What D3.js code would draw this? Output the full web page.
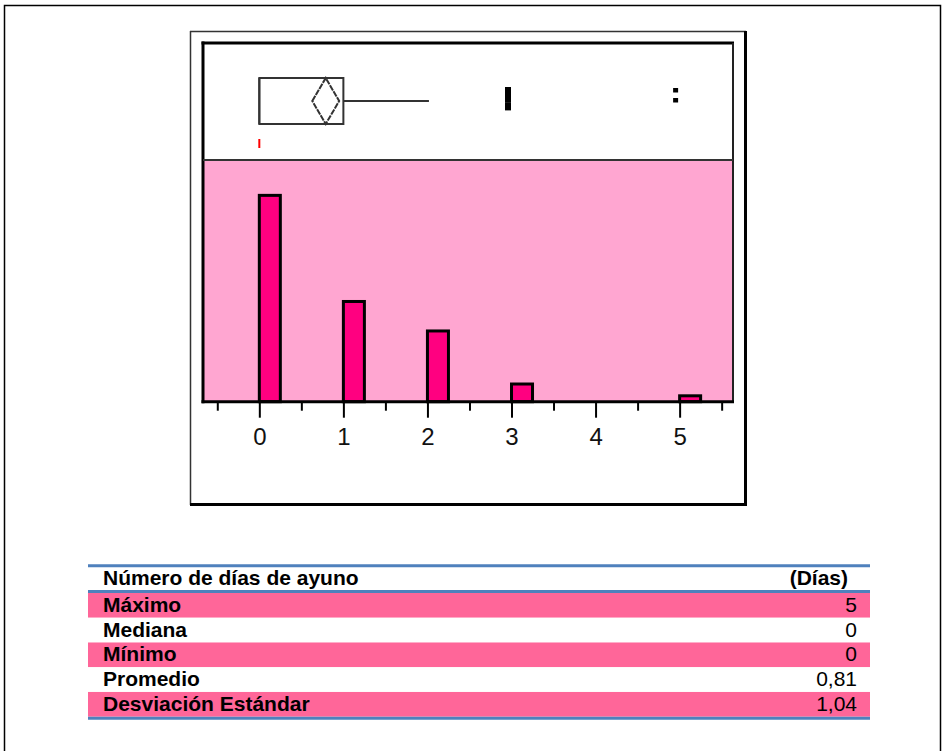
<!DOCTYPE html>
<html>
<head>
<meta charset="utf-8">
<script src="https://cdn.jsdelivr.net/npm/d3@7"></script>
<style>
  body { margin: 0; background: #fff; }
  svg { display: block; }
  text { font-family: "Liberation Sans", Arial, sans-serif; }
</style>
</head>
<body>
<svg id="chart" width="942" height="751"></svg>
<script>
// Frequency of fasting days
const dayValues = [0, 1, 2, 3, 4, 5];
const dayCounts = [35, 17, 12, 3, 0, 1];
const tickValues = [0, 1, 2, 3, 4, 5];
const minorTickValues = [-0.5, 0.5, 1.5, 2.5, 3.5, 4.5, 5.5];

// Outlier box plot summary
const boxQuartiles = [0, 0, 1];      // Q1, median, Q3
const whiskerHigh = 2;
const meanDiamond = [0.63, 0.95];    // confidence diamond of the mean
const modeValue = 0;
const outlierValues = [3, 3, 3];
const farOutlierValues = [5];

// Summary table
const tableTitle = "Número de días de ayuno";
const tableUnit = "(Días)";
const statLabels = ["Máximo", "Mediana", "Mínimo", "Promedio", "Desviación Estándar"];
const statValues = ["5", "0", "0", "0,81", "1,04"];

const svg = d3.select("#chart");

// page frame
svg.append("rect").attr("x", 4.5).attr("y", 5.5).attr("width", 936).attr("height", 760)
  .attr("fill", "none").attr("stroke", "#000").attr("stroke-width", 1.5);

// chart panel with drop-shadow style border
svg.append("line").attr("x1", 190.5).attr("y1", 31).attr("x2", 190.5).attr("y2", 505).attr("stroke", "#333").attr("stroke-width", 1.5);
svg.append("line").attr("x1", 190).attr("y1", 31.5).attr("x2", 746).attr("y2", 31.5).attr("stroke", "#333").attr("stroke-width", 1.5);
svg.append("line").attr("x1", 745.5).attr("y1", 31).attr("x2", 745.5).attr("y2", 506).attr("stroke", "#000").attr("stroke-width", 3);
svg.append("line").attr("x1", 190).attr("y1", 504.5).attr("x2", 747).attr("y2", 504.5).attr("stroke", "#000").attr("stroke-width", 3);

const plotL = 203, plotR = 733, plotT = 43, plotDiv = 160, plotB = 401.7;

const x = d3.scaleLinear().domain([-0.67, 5.635]).range([plotL, plotR]);
const y = d3.scaleLinear().domain([0, 41]).range([plotB, plotDiv]);

// histogram background
svg.append("rect").attr("x", plotL).attr("y", plotDiv).attr("width", plotR - plotL).attr("height", plotB - plotDiv)
  .attr("fill", "#FFA6D1");

// bars
const bars = dayValues.map((v, i) => ({ v, c: dayCounts[i] })).filter(d => d.c > 0);
svg.append("g").selectAll("rect").data(bars).join("rect")
  .attr("x", d => x(d.v))
  .attr("y", d => y(d.c))
  .attr("width", d => x(d.v + 0.25) - x(d.v))
  .attr("height", d => plotB - y(d.c))
  .attr("fill", "#FF0080")
  .attr("stroke", "#000")
  .attr("stroke-width", 3);

// plot frame
svg.append("line").attr("x1", plotL).attr("y1", plotT - 1.5).attr("x2", plotL).attr("y2", plotB + 1.5).attr("stroke", "#000").attr("stroke-width", 3);
svg.append("line").attr("x1", plotL - 1.5).attr("y1", plotT).attr("x2", plotR + 1).attr("y2", plotT).attr("stroke", "#000").attr("stroke-width", 3);
svg.append("line").attr("x1", plotR).attr("y1", plotT).attr("x2", plotR).attr("y2", plotB).attr("stroke", "#222").attr("stroke-width", 2);
svg.append("line").attr("x1", plotL).attr("y1", plotDiv).attr("x2", plotR).attr("y2", plotDiv).attr("stroke", "#333").attr("stroke-width", 2);
svg.append("line").attr("x1", plotL - 1.5).attr("y1", plotB).attr("x2", plotR + 1).attr("y2", plotB).attr("stroke", "#000").attr("stroke-width", 3);

// axes
const axisMajor = svg.append("g").attr("transform", `translate(0,${plotB + 1})`)
  .call(d3.axisBottom(x).tickValues(tickValues).tickSize(15).tickPadding(10).tickFormat(d3.format("d")));
axisMajor.select(".domain").remove();
axisMajor.selectAll(".tick line").attr("stroke", "#000").attr("stroke-width", 2);
axisMajor.selectAll(".tick text").attr("font-size", 24).attr("fill", "#111")
  .attr("font-family", "'Liberation Sans', Arial, sans-serif");

const axisMinor = svg.append("g").attr("transform", `translate(0,${plotB + 1})`)
  .call(d3.axisBottom(x).tickValues(minorTickValues).tickSize(8).tickFormat(""));
axisMinor.select(".domain").remove();
axisMinor.selectAll(".tick line").attr("stroke", "#000").attr("stroke-width", 2);

// box plot
const boxTop = 78, boxBot = 124, boxMid = (boxTop + boxBot) / 2;
const bp = svg.append("g").attr("stroke", "#333").attr("fill", "none").attr("stroke-width", 2);
bp.append("rect").attr("x", x(boxQuartiles[0])).attr("y", boxTop)
  .attr("width", x(boxQuartiles[2]) - x(boxQuartiles[0])).attr("height", boxBot - boxTop);
bp.append("line").attr("x1", x(boxQuartiles[1])).attr("x2", x(boxQuartiles[1])).attr("y1", boxTop).attr("y2", boxBot);
bp.append("line").attr("x1", x(boxQuartiles[2])).attr("x2", x(whiskerHigh) + 1.5).attr("y1", boxMid).attr("y2", boxMid);
const dc = (meanDiamond[0] + meanDiamond[1]) / 2;
bp.append("path")
  .attr("d", `M${x(meanDiamond[0])},${boxMid} L${x(dc)},${boxTop} L${x(meanDiamond[1])},${boxMid} L${x(dc)},${boxBot} Z`)
  .attr("stroke-dasharray", "6,1");

// mode marker
svg.append("line").attr("x1", x(modeValue)).attr("x2", x(modeValue)).attr("y1", 139).attr("y2", 148)
  .attr("stroke", "#FF0000").attr("stroke-width", 2);

// outliers (stacked points, slight jitter to the left)
svg.append("g").selectAll("rect").data(outlierValues).join("rect")
  .attr("x", d => x(d) - 6.5).attr("y", (d, i) => 87 + i * 7.7)
  .attr("width", 6).attr("height", 8).attr("fill", "#000");
const far = svg.append("g").selectAll("g").data(farOutlierValues).join("g");
far.append("rect").attr("x", d => x(d) - 6.5).attr("y", 88).attr("width", 5).attr("height", 4.5).attr("fill", "#000");
far.append("rect").attr("x", d => x(d) - 6.5).attr("y", 98).attr("width", 5).attr("height", 4.5).attr("fill", "#000");

// summary table
const tL = 88, tR = 870, rowTop = 593, rowH = 24.74, fs = 21;
const tbl = svg.append("g");
tbl.append("text").attr("x", 103).attr("y", 584.5).attr("font-size", fs).attr("font-weight", "bold").text(tableTitle);
tbl.append("text").attr("x", 848).attr("y", 584.5).attr("font-size", fs).attr("font-weight", "bold")
  .attr("text-anchor", "end").text(tableUnit);

const rows = tbl.selectAll("g.row").data(statLabels).join("g").attr("class", "row")
  .attr("transform", (d, i) => `translate(0,${rowTop + i * rowH})`);
rows.append("rect").attr("x", tL).attr("y", 0).attr("width", tR - tL).attr("height", rowH)
  .attr("fill", (d, i) => i % 2 === 0 ? "#FF6699" : "#FFFFFF");
rows.append("text").attr("x", 103).attr("y", 19).attr("font-size", fs).attr("font-weight", "bold").text(d => d);
rows.append("text").attr("x", 857).attr("y", 19).attr("font-size", fs).attr("text-anchor", "end")
  .text((d, i) => statValues[i]);

[565.8, 591.5, 718.3].forEach(yy => {
  tbl.append("line").attr("x1", tL).attr("x2", tR).attr("y1", yy).attr("y2", yy)
    .attr("stroke", "#4F81BD").attr("stroke-width", 3);
});
</script>
</body>
</html>
